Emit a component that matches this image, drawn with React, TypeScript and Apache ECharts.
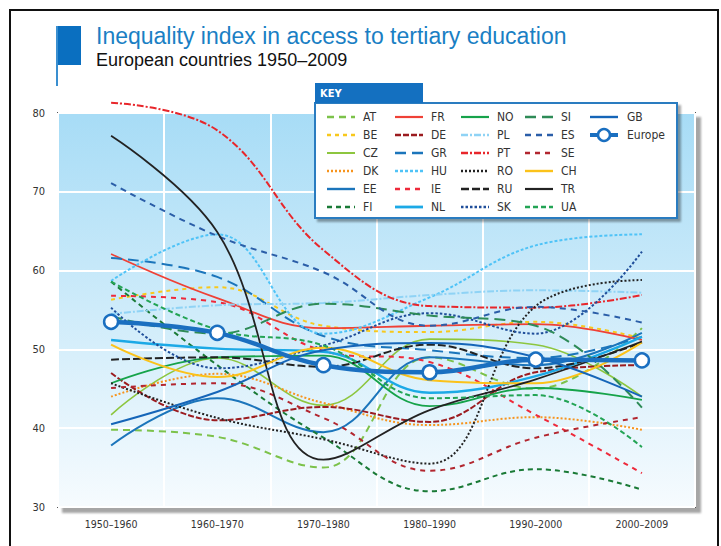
import React, { useEffect, useRef } from "react";
import * as echarts from "echarts";

const categories = ["1950–1960", "1960–1970", "1970–1980", "1980–1990", "1990–2000", "2000–2009"];
const yTicks = { min: 30, max: 80, interval: 10 };

// values (index, 0–100)
const AT = [39.8, 38.9, 35.0, 49.0, 45.0, 52.7];
const BE = [56.3, 57.9, 53.0, 52.2, 53.5, 51.4];
const CZ = [41.7, 48.9, 42.9, 51.3, 50.6, 44.0];
const DK = [44.0, 46.9, 43.2, 40.4, 41.4, 39.8];
const EE = [37.8, 43.8, 39.5, 49.0, 48.0, 52.1];
const FI = [58.6, 48.0, 38.8, 32.0, 34.8, 32.2];
const FR = [62.1, 56.5, 52.7, 53.0, 53.2, 51.2];
const DE = [47.0, 41.0, 42.7, 40.8, 47.1, 48.0];
const GR = [61.6, 59.2, 51.7, 49.9, 48.9, 51.6];
const HU = [58.7, 64.6, 52.0, 56.6, 63.2, 64.6];
const IE = [56.8, 56.0, 49.8, 48.4, 41.7, 34.3];
const NL = [51.2, 50.1, 49.7, 44.5, 46.6, 51.6];
const NO = [45.7, 49.0, 49.2, 42.8, 45.1, 43.6];
const PL = [54.5, 55.6, 55.9, 56.9, 57.5, 57.2];
const PT = [81.3, 77.8, 62.6, 55.5, 55.3, 56.9];
const RO = [45.7, 41.3, 38.6, 35.5, 55.5, 58.8];
const RU = [48.7, 49.0, 47.8, 50.6, 47.6, 50.9];
const SK = [55.3, 47.6, 50.5, 54.6, 52.0, 62.4];
const SI = [54.2, 52.0, 55.8, 54.3, 53.0, 42.6];
const ES = [71.1, 64.4, 59.8, 53.0, 55.4, 53.4];
const SE = [45.1, 45.7, 41.3, 34.6, 38.8, 41.4];
const CH = [50.6, 46.5, 50.2, 46.1, 45.7, 50.9];
const TR = [77.1, 64.9, 36.0, 42.3, 46.2, 51.0];
const UA = [58.6, 52.5, 50.5, 43.8, 44.2, 37.6];
const GB = [40.5, 44.6, 49.9, 50.8, 49.0, 44.0];
const Europe = [53.5, 52.1, 48.0, 47.1, 48.7, 48.6];

const seriesNames = ["AT", "BE", "CZ", "DK", "EE", "FI", "FR", "DE", "GR", "HU", "IE", "NL", "NO", "PL", "PT", "RO", "RU", "SK", "SI", "ES", "SE", "CH", "TR", "UA", "GB", "Europe"];
const seriesValues: Record<string, number[]> = { AT, BE, CZ, DK, EE, FI, FR, DE, GR, HU, IE, NL, NO, PL, PT, RO, RU, SK, SI, ES, SE, CH, TR, UA, GB, Europe };

// styles (colour, width, dash)
const styles: Record<string, { c: string; w: number; d: number[] | null }> = {
  AT: { c: "#7cc24a", w: 2, d: [7, 5] },
  BE: { c: "#f8c81c", w: 2, d: [4, 4] },
  CZ: { c: "#8dc63f", w: 1.6, d: null },
  DK: { c: "#f7941d", w: 2, d: [2, 2] },
  EE: { c: "#1b75bb", w: 2, d: null },
  FI: { c: "#1a7a36", w: 2, d: [5, 4] },
  FR: { c: "#ef4136", w: 1.8, d: null },
  DE: { c: "#9b1b1f", w: 2, d: [6, 2] },
  GR: { c: "#1b75bb", w: 2, d: [11, 6] },
  HU: { c: "#4fc3f7", w: 2, d: [3, 2] },
  IE: { c: "#ee2a3b", w: 2, d: [5, 5] },
  NL: { c: "#1ca9e6", w: 2.4, d: null },
  NO: { c: "#16a34a", w: 1.8, d: null },
  PL: { c: "#8fd3f5", w: 2, d: [7, 2, 2, 2] },
  PT: { c: "#e8262b", w: 2, d: [7, 2, 2, 2] },
  RO: { c: "#222222", w: 2, d: [2, 2] },
  RU: { c: "#222222", w: 2, d: [8, 3] },
  SK: { c: "#1f4e9a", w: 2, d: [2.5, 2] },
  SI: { c: "#2e8b57", w: 2, d: [11, 6] },
  ES: { c: "#2b5ea8", w: 2, d: [6, 5] },
  SE: { c: "#b2262f", w: 2, d: [5, 5] },
  CH: { c: "#fbc21a", w: 2, d: null },
  TR: { c: "#222222", w: 1.8, d: null },
  UA: { c: "#23a455", w: 2, d: [5, 3] },
  GB: { c: "#1565b8", w: 2, d: null },
  Europe: { c: "#1a6fc0", w: 4.5, d: null },
};

const NARROW = "'Liberation Sans Narrow', 'DejaVu Sans Condensed', 'Liberation Sans', sans-serif";

function buildLegend() {
  const colX = [327, 395, 461, 525, 590];
  const rowY = [117, 135, 153, 171, 189, 207];
  const els: any[] = [];
  els.push({
    type: "rect", shape: { x: 315, y: 103, width: 362, height: 115 },
    style: { fill: "#ffffff", stroke: "#2a7bc0", lineWidth: 2, shadowColor: "rgba(0,0,0,0.35)", shadowOffsetX: 3, shadowOffsetY: 3, shadowBlur: 2 }, z: 10,
  });
  els.push({ type: "rect", shape: { x: 315, y: 83, width: 108, height: 20 }, style: { fill: "#1470c0" }, z: 10 });
  els.push({ type: "text", x: 320, y: 93, style: { text: "KEY", fill: "#ffffff", font: `bold 11px ${NARROW}`, verticalAlign: "middle" }, z: 11 });
  seriesNames.forEach((name, i) => {
    const col = Math.floor(i / 6);
    const row = i % 6;
    const x = colX[col];
    const y = rowY[row];
    const s = styles[name];
    const isEu = name === "Europe";
    els.push({
      type: "line", shape: { x1: x, y1: y, x2: x + 28, y2: y },
      style: { stroke: s.c, lineWidth: isEu ? 4 : s.w + 0.4, lineDash: s.d || null }, z: 11,
    });
    if (isEu) {
      els.push({ type: "circle", shape: { cx: x + 14, cy: y, r: 6 }, style: { fill: "#fff", stroke: s.c, lineWidth: 2.5 }, z: 12 });
    }
    els.push({
      type: "text", x: col === 4 ? x + 37 : x + 36, y,
      style: { text: name, fill: "#333", font: `12px ${NARROW}`, verticalAlign: "middle" }, z: 11,
    });
  });
  return els;
}

export default function App() {
  const ref = useRef<HTMLDivElement>(null);
  useEffect(() => {
    if (!ref.current) return;
    const chart = echarts.init(ref.current, undefined, { renderer: "svg" });
    const series = seriesNames.map((name) => {
      const s = styles[name];
      const isEu = name === "Europe";
      return {
        name,
        type: "line",
        data: seriesValues[name],
        smooth: 0.4,
        clip: false,
        symbol: isEu ? "circle" : "none",
        symbolSize: 14,
        showSymbol: isEu,
        z: isEu ? 5 : 3,
        itemStyle: isEu ? { color: "#ffffff", borderColor: s.c, borderWidth: 2.5 } : undefined,
        lineStyle: { color: s.c, width: s.w, type: s.d ? s.d : "solid" },
        emphasis: { disabled: true },
      };
    });
    chart.setOption({
      animation: false,
      backgroundColor: "#ffffff",
      grid: {
        left: 58, right: 26, top: 113, bottom: 39,
        show: true,
        borderColor: "#555555",
        borderWidth: 2,
        backgroundColor: new echarts.graphic.LinearGradient(0, 0, 0, 1, [
          { offset: 0, color: "#a7dcf6" },
          { offset: 1, color: "#f6fbfe" },
        ]),
        shadowColor: "rgba(0,0,0,0.35)",
        shadowOffsetX: 5,
        shadowOffsetY: 5,
        shadowBlur: 2,
      },
      xAxis: {
        type: "category",
        data: categories,
        boundaryGap: true,
        axisLine: { show: false },
        axisTick: { show: false },
        axisLabel: { color: "#333", fontSize: 10.5, fontFamily: NARROW, margin: 11 },
        splitLine: { show: true, interval: 0, lineStyle: { color: "#ffffff", width: 2 } },
      },
      yAxis: {
        type: "value",
        min: yTicks.min,
        max: yTicks.max,
        interval: yTicks.interval,
        axisLine: { show: false },
        axisTick: { show: false },
        axisLabel: { color: "#333", fontSize: 11, fontFamily: NARROW, margin: 13 },
        splitLine: { show: true, lineStyle: { color: "#ffffff", width: 2 } },
      },
      graphic: [
        { type: "rect", shape: { x: 10, y: 10, width: 708, height: 600 }, style: { fill: "none", stroke: "#111", lineWidth: 2 }, z: 0, silent: true },
        { type: "rect", shape: { x: 56, y: 26, width: 25, height: 39 }, style: { fill: "#0a6fc0" }, z: 1 },
        { type: "line", shape: { x1: 57, y1: 26, x2: 57, y2: 86 }, style: { stroke: "#3a8fd0", lineWidth: 2 }, z: 1 },
        { type: "text", x: 96, y: 36, style: { text: "Inequality index in access to tertiary education", fill: "#1a7fc4", font: "23px 'Liberation Sans', Arial, sans-serif", verticalAlign: "middle" }, z: 1 },
        { type: "text", x: 96, y: 60, style: { text: "European countries 1950–2009", fill: "#111", font: "18px 'Liberation Sans', Arial, sans-serif", verticalAlign: "middle" }, z: 1 },
        ...buildLegend(),
      ],
      series,
    });
    return () => chart.dispose();
  }, []);
  return <div ref={ref} style={{ position: "absolute", left: 0, top: 0, width: 721, height: 546 }} />;
}
